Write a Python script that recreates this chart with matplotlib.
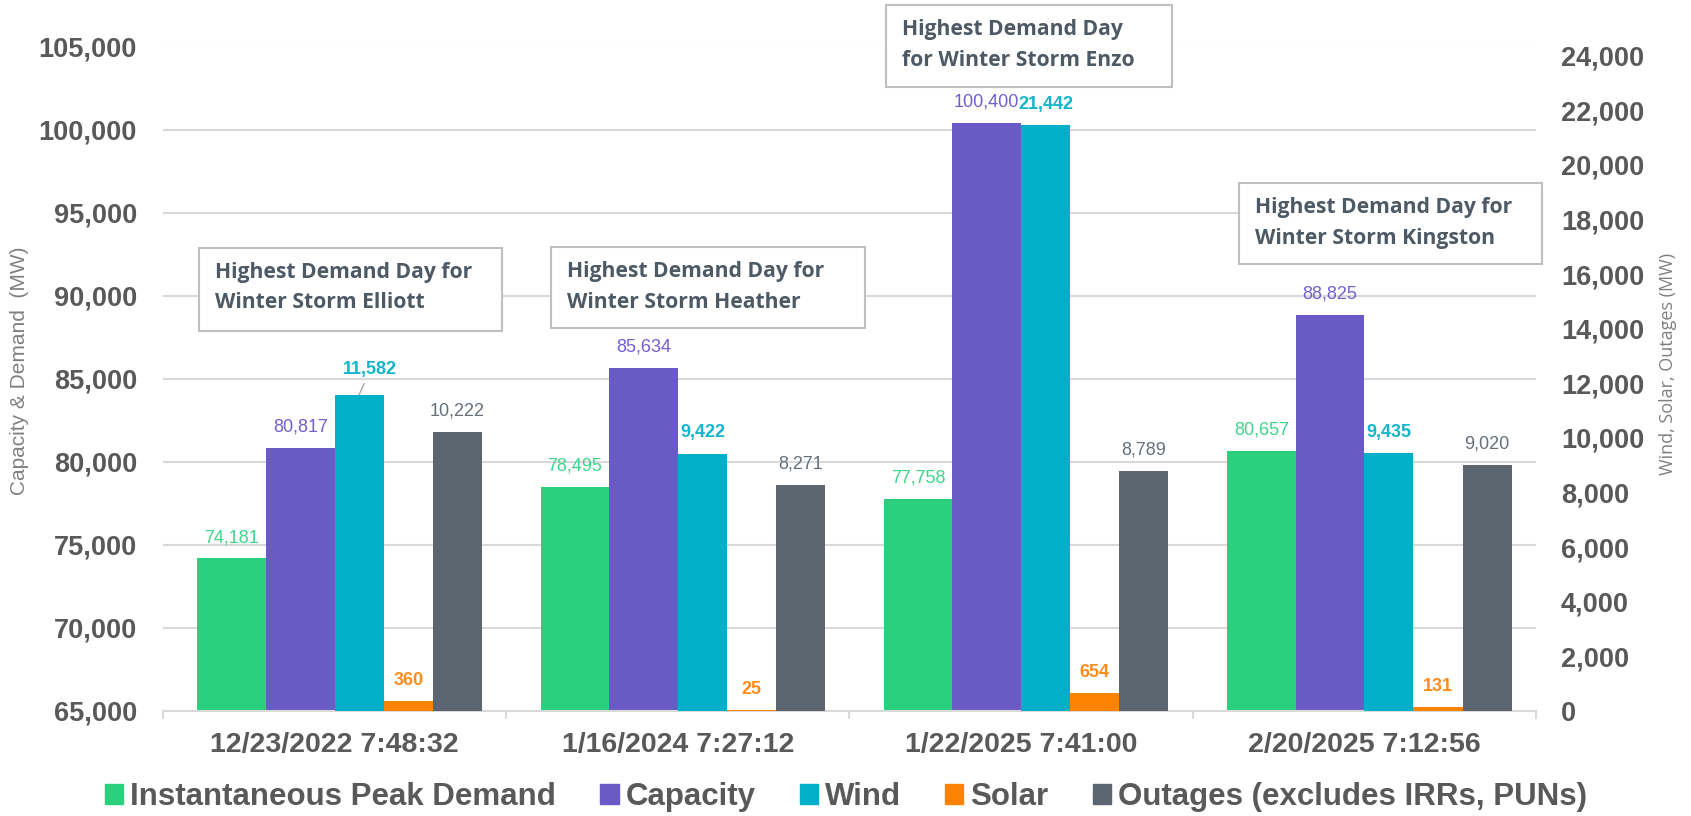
import matplotlib
matplotlib.use("Agg")
import matplotlib.pyplot as plt
from matplotlib.patches import Patch, Rectangle
import numpy as np

# ---------------- data ----------------
categories = ["12/23/2022 7:48:32", "1/16/2024 7:27:12", "1/22/2025 7:41:00", "2/20/2025 7:12:56"]
peak_demand = [74181, 78495, 77758, 80657]
capacity = [80817, 85634, 100400, 88825]
wind = [11582, 9422, 21442, 9435]
solar = [360, 25, 654, 131]
outages = [10222, 8271, 8789, 9020]
series_names = ["Instantaneous Peak Demand", "Capacity", "Wind", "Solar",
                "Outages (excludes IRRs, PUNs)"]
storm_notes = [("Highest Demand Day for", "Winter Storm Elliott"),
               ("Highest Demand Day for", "Winter Storm Heather"),
               ("Highest Demand Day", "for Winter Storm Enzo"),
               ("Highest Demand Day for", "Winter Storm Kingston")]
left_ticks = list(range(65000, 105001, 5000))
right_ticks = list(range(0, 24001, 2000))
left_title = "Capacity & Demand  (MW)"
right_title = "Wind, Solar, Outages (MW)"

# ---------------- style ----------------
C_GREEN, C_PURPLE, C_CYAN, C_ORANGE, C_SLATE = "#2ad07e", "#6a5ac5", "#00afc8", "#ff8300", "#5b6670"
L_GREEN, L_PURPLE, L_CYAN, L_ORANGE, L_SLATE = "#3dd68c", "#7060d0", "#12b5cc", "#ff8c1a", "#66707a"
TXT = "#595959"
GRID = "#d9d9d9"
SANS = ["Liberation Sans", "DejaVu Sans"]
NOTE_FONT = ["Open Sans", "DejaVu Sans"]

W, H, DPI = 1691, 816, 100
fig = plt.figure(figsize=(W / DPI, H / DPI), dpi=DPI)


def fx(px):
    return px / W


def fy(py):
    return 1 - py / H


PL, PR, PT, PB = 163, 1536, 46.5, 711
ax = fig.add_axes([fx(PL), fy(PB), (PR - PL) / W, (PB - PT) / H])
ax2 = ax.twinx()

x = np.arange(len(categories))
big_w, small_w = 0.2, 0.143
pos_peak = x - 1.5 * big_w
pos_cap = x - 0.5 * big_w
pos_wind = x + 0.5 * small_w
pos_solar = x + 1.5 * small_w
pos_out = x + 2.5 * small_w

b_peak = ax.bar(pos_peak, peak_demand, big_w, color=C_GREEN, zorder=2)
b_cap = ax.bar(pos_cap, capacity, big_w, color=C_PURPLE, zorder=2)
b_wind = ax2.bar(pos_wind, wind, small_w, color=C_CYAN, zorder=2)
b_solar = ax2.bar(pos_solar, solar, small_w, color=C_ORANGE, zorder=2)
b_out = ax2.bar(pos_out, outages, small_w, color=C_SLATE, zorder=2)

ax.set_xlim(-0.5, len(categories) - 0.5)
ax.set_ylim(65000, 105000)
ax2.set_ylim(0, 24330)

ax.set_axisbelow(True)
ax.yaxis.grid(True, color=GRID, lw=1.5)
for s in ["left", "right", "top"]:
    ax.spines[s].set_visible(False)
    ax2.spines[s].set_visible(False)
ax.spines["bottom"].set_color(GRID)
ax.spines["bottom"].set_linewidth(1.5)
ax2.spines["bottom"].set_visible(False)

ax.set_yticks(left_ticks, labels=[f"{v:,}" for v in left_ticks],
              family=SANS, fontweight="bold", fontsize=19.5, color=TXT)
ax2.set_yticks(right_ticks, labels=[f"{v:,}" for v in right_ticks],
               family=SANS, fontweight="bold", fontsize=19.5, color=TXT)
ax.tick_params(axis="y", length=0, pad=18.7)
ax2.tick_params(axis="y", length=0, pad=18.0)

ax.set_xticks(x, labels=categories, family=SANS, fontweight="bold", fontsize=20.5, color=TXT)
ax.tick_params(axis="x", which="major", length=0, pad=15)
ax.set_xticks(np.arange(-0.5, len(categories), 1.0), minor=True)
ax.tick_params(axis="x", which="minor", length=6, width=1.5, color=GRID, direction="out")
ax2.tick_params(axis="x", which="both", length=0)


# ---------------- data labels ----------------
def add_labels(axis, bars, values, color, weight):
    for b, v in zip(bars, values):
        axis.annotate(f"{v:,}", xy=(b.get_x() + b.get_width() / 2, v),
                      xytext=(0, 15), textcoords="offset points",
                      ha="center", va="center", fontsize=13, family=SANS,
                      fontweight=weight, color=color)


add_labels(ax, b_peak, peak_demand, L_GREEN, "normal")
add_labels(ax, b_cap, capacity, L_PURPLE, "normal")
add_labels(ax2, b_solar, solar, L_ORANGE, "bold")
add_labels(ax2, b_out, outages, L_SLATE, "normal")
# wind labels; the first one is pulled aside with a leader line
for i, (b, v) in enumerate(zip(b_wind, wind)):
    cx = b.get_x() + b.get_width() / 2
    if i == 0:
        ax2.annotate(f"{v:,}", xy=(cx, v), xytext=(8, 18), textcoords="offset points",
                     ha="center", va="center", fontsize=13, family=SANS,
                     fontweight="bold", color=L_CYAN,
                     arrowprops=dict(arrowstyle="-", color="#a6a6a6", lw=1,
                                     shrinkA=2, shrinkB=0))
    else:
        ax2.annotate(f"{v:,}", xy=(cx, v), xytext=(0, 15), textcoords="offset points",
                     ha="center", va="center", fontsize=13, family=SANS,
                     fontweight="bold", color=L_CYAN)

# ---------------- axis titles ----------------
fig.text(fx(20), fy(371), left_title, rotation=90, ha="center", va="center",
         fontsize=15, family=SANS, color="#808080")
fig.text(fx(1668), fy(364), right_title, rotation=90, ha="center", va="center",
         fontsize=13, family=NOTE_FONT, color="#808080")

# ---------------- storm note boxes ----------------
note_boxes = [(199, 248, 502, 331), (551, 247, 865, 328),
              (886, 5, 1172, 87), (1239, 183, 1542, 264)]
for (l1, l2), (x0, y0, x1, y1) in zip(storm_notes, note_boxes):
    fig.patches.append(Rectangle((fx(x0), fy(y1)), (x1 - x0) / W, (y1 - y0) / H,
                                 transform=fig.transFigure, facecolor="white",
                                 edgecolor="#bfbfbf", lw=1.5, zorder=5))
    fig.text(fx(x0 + 16), fy(y0 + 25), l1, ha="left", va="center", fontsize=15.2,
             family=NOTE_FONT, fontweight="bold", color="#4d5965", zorder=6)
    fig.text(fx(x0 + 16), fy(y0 + 55), l2, ha="left", va="center", fontsize=15.2,
             family=NOTE_FONT, fontweight="bold", color="#4d5965", zorder=6)

# ---------------- legend ----------------
handles = [Patch(color=c) for c in (C_GREEN, C_PURPLE, C_CYAN, C_ORANGE, C_SLATE)]
fig.legend(handles, series_names, loc="center", bbox_to_anchor=(fx(846), fy(797)),
           ncol=5, frameon=False,
           prop={"family": SANS, "weight": "bold", "size": 22.5}, labelcolor=TXT,
           handlelength=0.58, handleheight=0.58, handletextpad=0.22,
           columnspacing=1.42, borderaxespad=0, borderpad=0)

fig.savefig("out.png", dpi=DPI)
